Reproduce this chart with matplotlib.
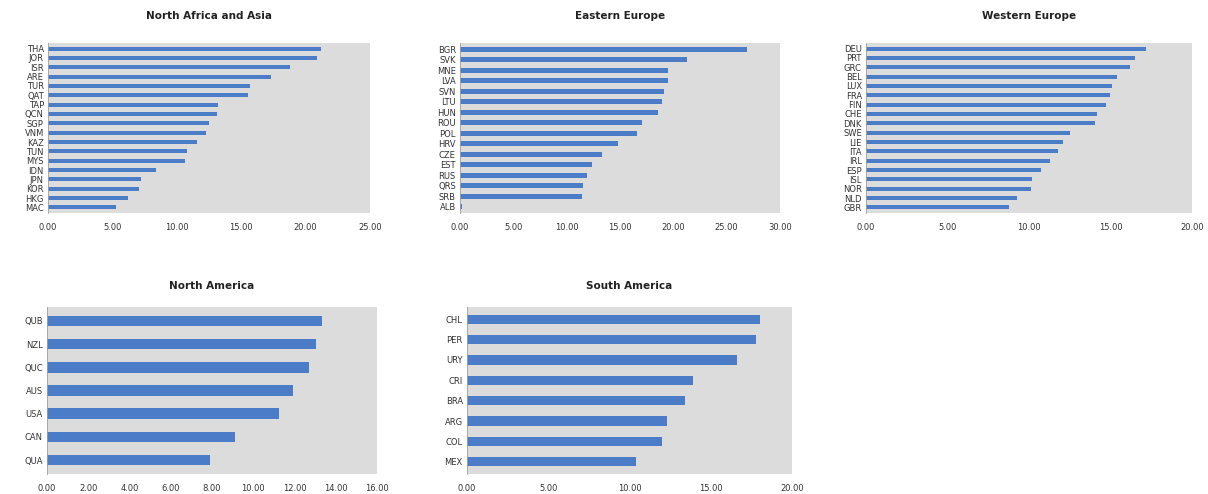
import matplotlib
matplotlib.use("Agg")
import matplotlib.pyplot as plt
from matplotlib.ticker import FormatStrFormatter

# ---- data (top bar first) ----
nafa_codes = ["THA", "JOR", "ISR", "ARE", "TUR", "QAT", "TAP", "QCN", "SGP",
              "VNM", "KAZ", "TUN", "MYS", "IDN", "JPN", "KOR", "HKG", "MAC"]
nafa_vals = [21.2, 20.9, 18.8, 17.3, 15.7, 15.5, 13.2, 13.1, 12.5,
             12.3, 11.6, 10.8, 10.6, 8.4, 7.2, 7.1, 6.2, 5.3]

eeur_codes = ["BGR", "SVK", "MNE", "LVA", "SVN", "LTU", "HUN", "ROU",
              "POL", "HRV", "CZE", "EST", "RUS", "QRS", "SRB", "ALB"]
eeur_vals = [26.9, 21.3, 19.5, 19.5, 19.1, 18.9, 18.6, 17.1,
             16.6, 14.8, 13.3, 12.4, 11.9, 11.5, 11.4, 0.15]

weur_codes = ["DEU", "PRT", "GRC", "BEL", "LUX", "FRA", "FIN", "CHE", "DNK",
              "SWE", "LIE", "ITA", "IRL", "ESP", "ISL", "NOR", "NLD", "GBR"]
weur_vals = [17.2, 16.5, 16.2, 15.4, 15.1, 14.95, 14.75, 14.2, 14.05,
             12.5, 12.1, 11.75, 11.3, 10.75, 10.2, 10.15, 9.25, 8.75]

nam_codes = ["QUB", "NZL", "QUC", "AUS", "USA", "CAN", "QUA"]
nam_vals = [13.35, 13.05, 12.7, 11.95, 11.25, 9.1, 7.9]

sam_codes = ["CHL", "PER", "URY", "CRI", "BRA", "ARG", "COL", "MEX"]
sam_vals = [18.0, 17.8, 16.6, 13.9, 13.4, 12.3, 12.0, 10.4]

# ---- layout: pixel boxes (left, top, right, bottom) in a 1208x494 canvas ----
W, H = 1208, 494
BAR = "#4a7cc7"
BG = "#dcdcdc"

panels = [
    ("North Africa and Asia", nafa_codes, nafa_vals, 25, 5, (48, 43, 370, 213), 17),
    ("Eastern Europe", eeur_codes, eeur_vals, 30, 5, (460, 43, 780, 213), 17),
    ("Western Europe", weur_codes, weur_vals, 20, 5, (866, 43, 1192, 213), 17),
    ("North America", nam_codes, nam_vals, 16, 2, (47, 307, 377, 474), 13),
    ("South America", sam_codes, sam_vals, 20, 5, (467, 307, 792, 474), 13),
]

fig = plt.figure(figsize=(W / 100, H / 100), dpi=100)
fig.patch.set_facecolor("white")

for title, codes, vals, xmax, step, (l, t, r, b), tpad in panels:
    ax = fig.add_axes([l / W, 1 - b / H, (r - l) / W, (b - t) / H])
    ax.set_facecolor(BG)
    ypos = list(range(len(codes)))[::-1]
    ax.barh(ypos, vals, height=0.45, color=BAR, zorder=2)
    ax.set_yticks(ypos)
    ax.set_yticklabels(codes)
    ax.set_xlim(0, xmax)
    ax.set_ylim(-0.6, len(codes) - 0.4)
    ax.set_xticks([i * step for i in range(int(xmax / step) + 1)])
    ax.xaxis.set_major_formatter(FormatStrFormatter("%.2f"))
    ax.tick_params(axis="both", labelsize=6, colors="#333333", length=0, pad=3)
    ax.tick_params(axis="x", pad=7)
    for s in ["top", "right", "bottom"]:
        ax.spines[s].set_visible(False)
    ax.spines["left"].set_color("#a0a0a0")
    ax.spines["left"].set_linewidth(0.6)
    ax.set_title(title, fontsize=7.5, fontweight="bold", color="#222222", pad=tpad)

plt.savefig("out.png", dpi=100, facecolor="white")
